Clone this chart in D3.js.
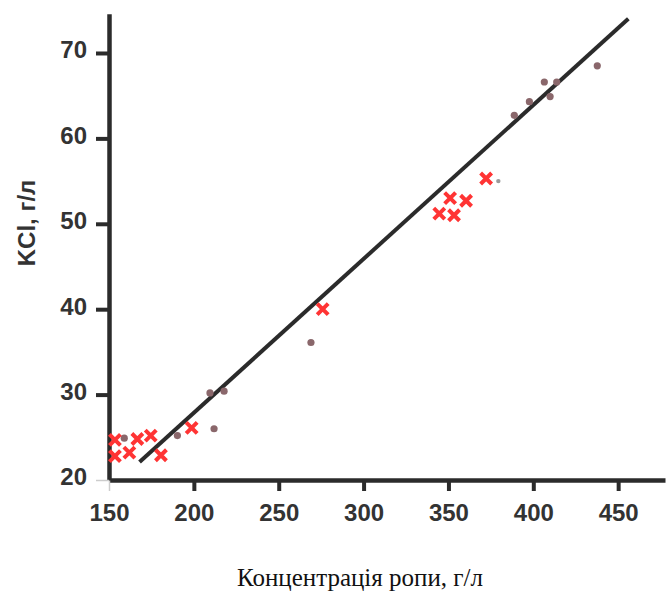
<!DOCTYPE html>
<html>
<head>
<meta charset="utf-8">
<script src="https://cdn.jsdelivr.net/npm/d3@7"></script>
<style>
  body { margin: 0; background: #fff; }
  svg { display: block; }
</style>
</head>
<body>
<div id="chart"></div>
<script>
// ---- data ----
const xTicks = [150, 200, 250, 300, 350, 400, 450];
const yTicks = [20, 30, 40, 50, 60, 70];

// red crosses
const crossX = [153.5, 153.5, 162, 166.7, 174.6, 180.6, 198.7, 275.9, 344.6, 351, 353.3, 360.4, 372.2];
const crossY = [24.7, 22.8, 23.2, 24.8, 25.2, 22.9, 26.1, 40.0, 51.2, 53.0, 51.0, 52.7, 55.3];

// brown dots
const dotX = [159, 190.3, 209.5, 211.9, 217.8, 269, 388.8, 397.7, 406.5, 409.9, 413.8, 437.7];
const dotY = [24.9, 25.2, 30.2, 26.0, 30.4, 36.1, 62.7, 64.3, 66.6, 64.9, 66.6, 68.5];

// small grey point
const greyX = [379.4];
const greyY = [55.0];

// trend line end points
const lineX = [168, 456];
const lineY = [22.1, 74.0];

const W = 666, H = 595;
const axisColor = '#2b2b2b';
const labelColor = '#333';

const svg = d3.select('#chart').append('svg')
  .attr('width', W)
  .attr('height', H);

const x = d3.scaleLinear().domain([150, 477.6]).range([109, 665]);
const y = d3.scaleLinear().domain([20, 74.6]).range([480, 13.7]);

// Axes
const xAxis = svg.append('g')
  .attr('transform', `translate(0,${y(20)})`)
  .call(d3.axisBottom(x).tickValues(xTicks).tickSize(11).tickSizeOuter(0).tickPadding(13));

const yAxis = svg.append('g')
  .attr('transform', `translate(${x(150)},0)`)
  .call(d3.axisLeft(y).tickValues(yTicks).tickSize(13).tickSizeOuter(0).tickPadding(9));

[xAxis, yAxis].forEach(ax => {
  ax.select('.domain').attr('stroke', axisColor).attr('stroke-width', 4.5);
  ax.selectAll('.tick line').attr('stroke', axisColor).attr('stroke-width', 4);
  ax.selectAll('.tick text')
    .attr('fill', labelColor)
    .attr('font-family', '"Liberation Sans", Arial, sans-serif')
    .attr('font-weight', 'bold')
    .attr('font-size', '24px');
});
yAxis.selectAll('.tick text').attr('dy', '0.2em');
// the 150 / 20 ticks sit on the other axis and are barely visible
xAxis.selectAll('.tick line').filter(d => d === 150).attr('stroke', '#ccc').attr('stroke-width', 1.5);
yAxis.selectAll('.tick line').filter(d => d === 20).attr('stroke', '#ccc').attr('stroke-width', 1.5);

// Trend line
svg.append('line')
  .attr('x1', x(lineX[0])).attr('y1', y(lineY[0]))
  .attr('x2', x(lineX[1])).attr('y2', y(lineY[1]))
  .attr('stroke', axisColor)
  .attr('stroke-width', 4);

// Dots
svg.selectAll('.dot')
  .data(dotX.map((v, i) => ({ x: v, y: dotY[i] })))
  .join('circle')
  .attr('class', 'dot')
  .attr('cx', d => x(d.x))
  .attr('cy', d => y(d.y))
  .attr('r', 3.6)
  .attr('fill', '#8a676b');

svg.selectAll('.grey')
  .data(greyX.map((v, i) => ({ x: v, y: greyY[i] })))
  .join('circle')
  .attr('class', 'grey')
  .attr('cx', d => x(d.x))
  .attr('cy', d => y(d.y))
  .attr('r', 2.2)
  .attr('fill', '#9a9a9a');

// Crosses
const s = 5.5;
svg.selectAll('.cross')
  .data(crossX.map((v, i) => ({ x: v, y: crossY[i] })))
  .join('path')
  .attr('class', 'cross')
  .attr('d', d => {
    const cx = x(d.x), cy = y(d.y);
    return `M${cx - s},${cy - s}L${cx + s},${cy + s}M${cx - s},${cy + s}L${cx + s},${cy - s}`;
  })
  .attr('stroke', '#ff3434')
  .attr('stroke-width', 4)
  .attr('fill', 'none');

// Axis titles
svg.append('text')
  .attr('transform', 'translate(35,223) rotate(-90)')
  .attr('text-anchor', 'middle')
  .attr('fill', labelColor)
  .attr('font-family', '"Liberation Sans", Arial, sans-serif')
  .attr('font-weight', 'bold')
  .attr('font-size', '24px')
  .text('KCl, г/л');

svg.append('text')
  .attr('x', 360)
  .attr('y', 586)
  .attr('text-anchor', 'middle')
  .attr('fill', '#111')
  .attr('font-family', '"Liberation Serif", "Times New Roman", serif')
  .attr('font-size', '25px')
  .text('Концентрація ропи, г/л');
</script>
</body>
</html>
